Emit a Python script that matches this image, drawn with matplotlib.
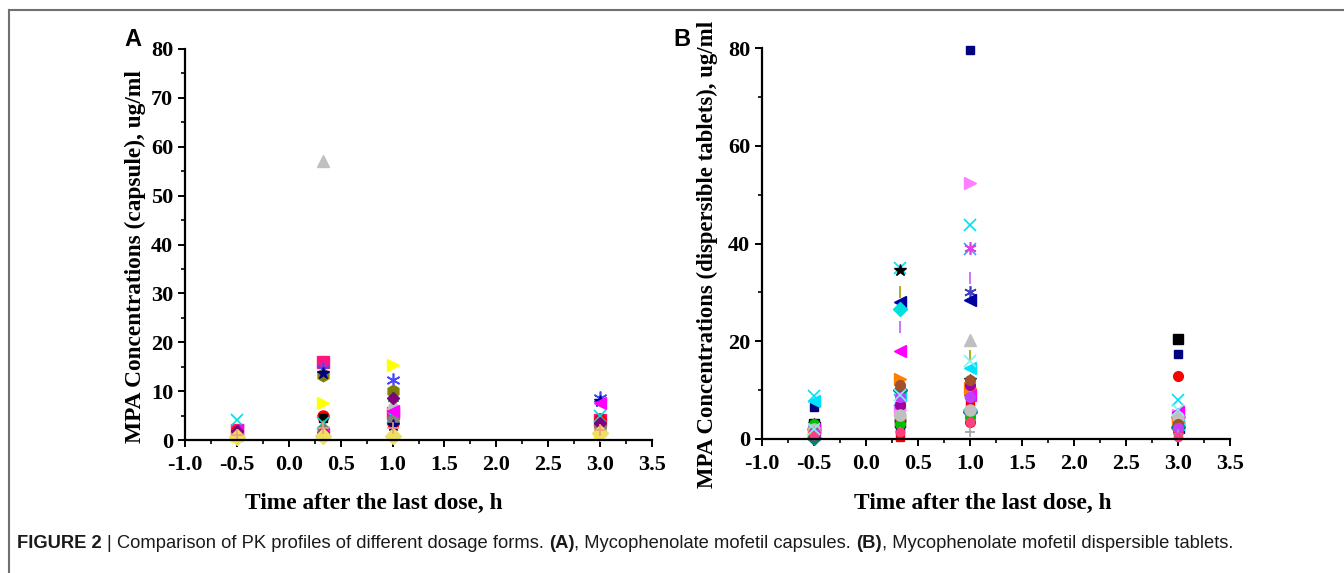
import numpy as np
import matplotlib
matplotlib.use("Agg")
import matplotlib.pyplot as plt
from matplotlib.lines import Line2D
from matplotlib.ticker import MultipleLocator, FormatStrFormatter

# Sampling times (h after the last dose)
times = [-0.5, 0.33, 1.0, 3.0]

# Panel A: MPA concentrations per patient, capsules (ug/ml)
capsule_conc = [
    [2.0, 16.0, 5.5, 4.0],
    [1.5, 14.5, 12.3, 8.5],
    [1.2, 13.3, 10.0, 3.0],
    [1.0, 57.0, 7.5, 2.0],
    [0.8, 7.5, 15.3, 1.2],
    [1.8, 5.0, 3.5, 4.2],
    [1.5, 4.5, 4.0, 3.3],
    [1.6, 3.0, 9.0, 2.8],
    [4.0, 3.5, 4.8, 5.0],
    [1.4, 2.0, 4.0, 2.5],
    [1.7, 13.8, 3.0, 8.0],
    [2.0, 1.2, 6.0, 7.5],
    [1.9, 1.5, 8.5, 3.5],
    [0.7, 0.8, 0.8, 1.5],
    [1.0, 2.5, 2.5, 2.0],
]

# Panel B: MPA concentrations per patient, dispersible tablets (ug/ml)
tablet_conc = [
    [6.5, 2.0, 79.5, 17.3],
    [1.5, 6.0, 52.3, 5.0],
    [8.8, 35.0, 43.8, 8.0],
    [1.0, 8.0, 38.8, 3.0],
    [1.5, 7.0, 39.0, 4.0],
    [2.5, 23.0, 33.0, 2.0],
    [2.0, 3.0, 30.0, 3.5],
    [2.2, 28.0, 28.5, 2.5],
    [1.0, 5.0, 20.3, 3.0],
    [2.5, 30.0, 17.0, 2.0],
    [7.8, 9.0, 14.5, 3.0],
    [2.0, 26.5, 6.0, 4.5],
    [3.0, 34.5, 12.0, 5.2],
    [3.0, 3.5, 9.5, 20.5],
    [1.8, 18.0, 9.0, 5.5],
    [1.2, 12.3, 10.5, 3.5],
    [0.5, 4.0, 3.5, 12.8],
    [0.2, 10.0, 5.5, 2.5],
    [1.0, 7.0, 11.0, 3.0],
    [3.0, 3.0, 4.5, 1.5],
    [0.8, 0.5, 7.5, 2.0],
    [2.0, 5.0, 6.0, 4.5],
    [1.5, 11.0, 12.0, 3.0],
    [1.3, 8.5, 8.5, 2.2],
    [1.0, 1.5, 1.5, 1.0],
    [0.8, 1.5, 3.5, 0.5],
    [2.0, 9.0, 16.0, 6.0],
]

x_ticks = [-1.0, -0.5, 0.0, 0.5, 1.0, 1.5, 2.0, 2.5, 3.0, 3.5]

# Symbol styles (marker, colour, size) cycled through the patients
styles_a = [
    ("s", "#FF1480", 8), ((6, 2, 0), "#4848FF", 10), ("h", "#808000", 9),
    ("^", "#C0C0C0", 9), (">", "#FFFF00", 9), ("o", "#FF0000", 8),
    ("s", "#000000", 6), ("^", "#00C000", 7), ("x", "#00E0E0", 8),
    ("h", "#808080", 9), ("*", "#000080", 9), ("<", "#FF00FF", 8),
    ("D", "#800080", 6), ("D", "#F0E060", 8), ("+", "#F0A080", 8),
]
styles_b = [
    ("s", "#000080", 6), (">", "#FF80FF", 8), ("x", "#00E0F0", 9),
    ("x", "#40A0FF", 8), ((6, 2, 0), "#E040E0", 9), ("|", "#C060FF", 9),
    ((6, 2, 0), "#4040C0", 9), ("<", "#0000A0", 8), ("^", "#C0C0C0", 8),
    ("|", "#A0A000", 8), ("<", "#00E0FF", 8), ("D", "#00E0E0", 7),
    ("*", "#000000", 9), ("s", "#000000", 7), ("<", "#FF00FF", 8),
    (">", "#FF8000", 8), ("o", "#FF0000", 7), ("D", "#008080", 7),
    ("o", "#A000A0", 7), ("o", "#00C000", 7), ("s", "#FF0000", 6),
    ("o", "#C0C0C0", 8), ("o", "#A0522D", 7), ("o", "#C040FF", 7),
    ("+", "#A0A0A0", 7), ("o", "#FF4080", 6), ("x", "#80F0F0", 8),
]

serif = "Liberation Serif"
sans = "Liberation Sans"
W, H = 1344, 573

fig = plt.figure(figsize=(W / 100, H / 100), dpi=100)

ax_a = fig.add_axes([185 / W, 1 - 440 / H, 467 / W, 391 / H])
ax_b = fig.add_axes([762 / W, 1 - 439 / H, 468 / W, 391 / H])


def draw_panel(ax, conc, styles, ymajor, yminor):
    for vals, (mk, col, sz) in zip(conc, styles):
        filled = mk not in ("x", "+", "|") and not isinstance(mk, tuple)
        ax.plot(times, vals, linestyle="none", marker=mk, color=col,
                markersize=sz, markeredgewidth=1.0 if filled else 1.2,
                clip_on=False)
    ax.set_xlim(-1.0, 3.5)
    ax.set_ylim(0, 80)
    ax.set_xticks(x_ticks)
    ax.xaxis.set_minor_locator(MultipleLocator(0.25))
    ax.yaxis.set_major_locator(MultipleLocator(ymajor))
    ax.yaxis.set_minor_locator(MultipleLocator(yminor))
    ax.xaxis.set_major_formatter(FormatStrFormatter("%.1f"))
    ax.yaxis.set_major_formatter(FormatStrFormatter("%d"))
    for side in ("top", "right"):
        ax.spines[side].set_visible(False)
    for side in ("left", "bottom"):
        ax.spines[side].set_linewidth(1.6)
    ax.tick_params(which="major", direction="out", length=5, width=1.4,
                   labelsize=16)
    ax.tick_params(which="minor", direction="out", length=3, width=1.2)
    ax.tick_params(axis="x", which="major", pad=6)
    ax.tick_params(axis="y", which="major", pad=3.5)
    for lab in ax.get_xticklabels() + ax.get_yticklabels():
        lab.set_fontfamily(serif)
        lab.set_fontweight("bold")


draw_panel(ax_a, capsule_conc, styles_a, 10, 5)
draw_panel(ax_b, tablet_conc, styles_b, 20, 10)

label_kw = dict(fontfamily=serif, fontweight="bold", fontsize=16.8,
                ha="center", va="center")
fig.text(135 / W, 1 - 257 / H, "MPA Concentrations (capsule), ug/ml",
         rotation=90, **label_kw)
fig.text(707 / W, 1 - 254 / H,
         "MPA Concentrations (dispersible tablets), ug/ml",
         rotation=90, fontfamily=serif, fontweight="bold", fontsize=16.4,
         ha="center", va="center")

fig.text(374 / W, 1 - 503 / H, "Time after the last dose, h", **label_kw)
fig.text(983 / W, 1 - 503 / H, "Time after the last dose, h", **label_kw)

fig.text(133 / W, 1 - 40 / H, "A", fontfamily=sans, fontweight="bold",
         fontsize=17, ha="center", va="center")
fig.text(682 / W, 1 - 40 / H, "B", fontfamily=sans, fontweight="bold",
         fontsize=17, ha="center", va="center")

# Figure frame (top and left rules)
fig.add_artist(Line2D([9 / W, 1.0], [1 - 10 / H, 1 - 10 / H],
                      transform=fig.transFigure, color="#707070", lw=1.5))
fig.add_artist(Line2D([9 / W, 9 / W], [0.0, 1 - 10 / H],
                      transform=fig.transFigure, color="#707070", lw=1.5))

# Caption built from bold and regular pieces
caption = [
    ("FIGURE 2 ", "bold"),
    ("| ", "normal"),
    ("Comparison of PK profiles of different dosage forms. ", "normal"),
    ("(A)", "bold"),
    (", Mycophenolate mofetil capsules. ", "normal"),
    ("(B)", "bold"),
    (", Mycophenolate mofetil dispersible tablets.", "normal"),
]
renderer = fig.canvas.get_renderer()
x_px = 17
y_cap = 1 - 543 / H
for txt, wt in caption:
    t = fig.text(x_px / W, y_cap, txt, fontfamily=sans, fontweight=wt,
                 fontsize=13.2, ha="left", va="center", color="#1a1a1a")
    bb = t.get_window_extent(renderer=renderer)
    x_px += bb.width

fig.savefig("out.png", dpi=100)
